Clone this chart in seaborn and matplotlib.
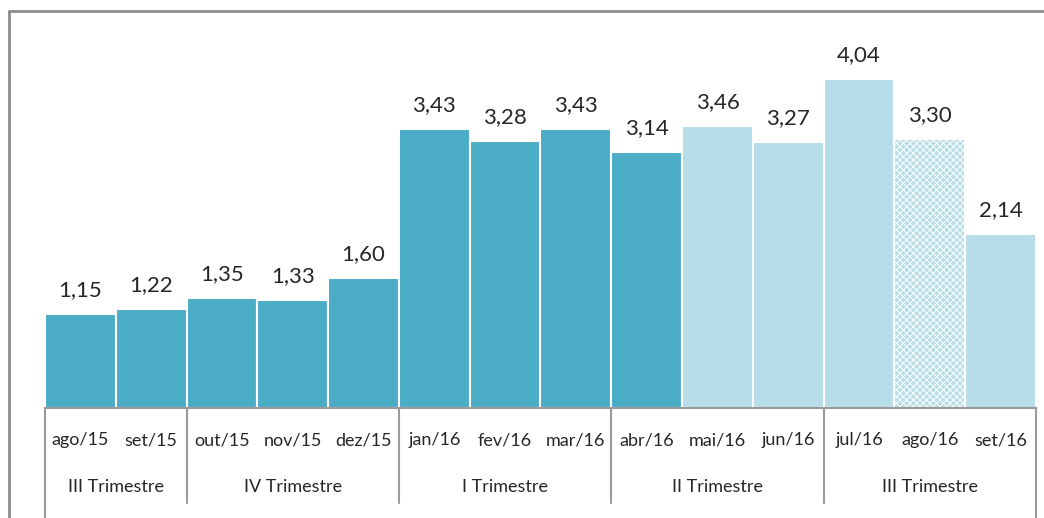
import pandas as pd
import numpy as np
import matplotlib.pyplot as plt
import seaborn as sns
from matplotlib.lines import Line2D
import matplotlib.transforms as mtransforms

# --- data ---
meses = ["ago/15", "set/15", "out/15", "nov/15", "dez/15", "jan/16", "fev/16",
         "mar/16", "abr/16", "mai/16", "jun/16", "jul/16", "ago/16", "set/16"]
valores = [1.15, 1.22, 1.35, 1.33, 1.60, 3.43, 3.28, 3.43, 3.14, 3.46, 3.27, 4.04, 3.30, 2.14]
tipo = ["real"] * 9 + ["proj"] * 3 + ["estim"] + ["proj"]
trimestres = ["III Trimestre", "IV Trimestre", "I Trimestre", "II Trimestre", "III Trimestre"]
meses_por_trimestre = [2, 3, 3, 3, 3]

df = pd.DataFrame({"mes": meses, "valor": valores, "tipo": tipo})

# --- style ---
DARK = "#4BACC6"
LIGHT = "#B7DDE8"
GRAY = "#9a9a9a"
cores = {"real": DARK, "proj": LIGHT, "estim": LIGHT}

sns.set_theme(style="white")
plt.rcParams["font.family"] = ["Lato", "DejaVu Sans"]
plt.rcParams["hatch.linewidth"] = 0.7

fig = plt.figure(figsize=(10.44, 5.18), dpi=100)
W, H = 1044, 518
x0, x1, y_base, y_top = 45, 1036, 408, 11
ax = fig.add_axes([x0 / W, (H - y_base) / H, (x1 - x0) / W, (y_base - y_top) / H])

sns.barplot(data=df, x="mes", y="valor", hue="tipo", palette=cores, dodge=False,
            saturation=1, width=1.0, edgecolor="white", linewidth=1.5,
            legend=False, ax=ax)

# hatched bar (ago/16) and value labels
bars = sorted(ax.patches, key=lambda p: p.get_x())
for b, t, v in zip(bars, tipo, valores):
    if t == "estim":
        b.set_hatch("xxxxx")
    ax.annotate(f"{v:.2f}".replace(".", ","), (b.get_x() + b.get_width() / 2, v),
                xytext=(0, 10), textcoords="offset points", ha="center", va="bottom",
                fontsize=16, color="#262626")

px_per_unit = (408 - 79) / 4.04
ax.set_xlim(-0.5, len(meses) - 0.5)
ax.set_ylim(0, (y_base - y_top) / px_per_unit)
ax.set_xticks([])
ax.set_yticks([])
ax.set_xlabel("")
ax.set_ylabel("")
for s in ["top", "left", "right"]:
    ax.spines[s].set_visible(False)
ax.spines["bottom"].set_color(GRAY)
ax.spines["bottom"].set_linewidth(1.5)

# category axis: month labels, quarter labels and separators
h_ax = y_base - y_top
trans = mtransforms.blended_transform_factory(ax.transData, ax.transAxes)
for i, m in enumerate(meses):
    ax.text(i, -32 / h_ax, m, transform=trans, ha="center", va="center",
            fontsize=13, color="#262626", clip_on=False)

inicio = -0.5
bordas = [inicio]
for nome, n in zip(trimestres, meses_por_trimestre):
    centro = inicio + n / 2
    ax.text(centro, -79 / h_ax, nome, transform=trans, ha="center", va="center",
            fontsize=13, color="#262626", clip_on=False)
    inicio += n
    bordas.append(inicio)

for k, bx in enumerate(bordas):
    fim = -110 / h_ax if k in (0, len(bordas) - 1) else -95 / h_ax
    ax.add_line(Line2D([bx, bx], [0, fim], transform=trans, color=GRAY,
                       linewidth=1.5, clip_on=False))

# outer frame (top and left)
fig.add_artist(Line2D([9 / W, 1], [1 - 11 / H, 1 - 11 / H], color="#8c8c8c", linewidth=2))
fig.add_artist(Line2D([9 / W, 9 / W], [0, 1 - 11 / H], color="#8c8c8c", linewidth=2))

fig.savefig("out.png", dpi=100)
